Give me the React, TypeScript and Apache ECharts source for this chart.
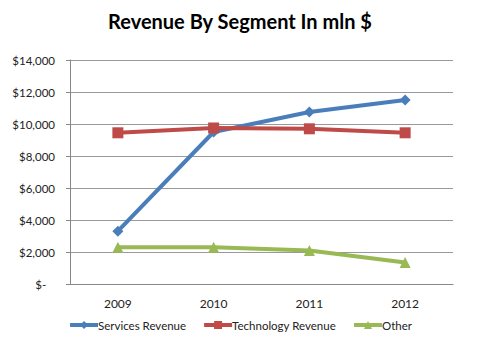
import React, { useEffect, useRef } from "react";
import * as echarts from "echarts";

const years = ["2009", "2010", "2011", "2012"];
const servicesRevenue = [3300, 9500, 10750, 11500];
const technologyRevenue = [9450, 9750, 9700, 9450];
const otherRevenue = [2300, 2300, 2100, 1350];

const FONT = "Lato, 'Open Sans', sans-serif";

export default function App() {
  const ref = useRef<HTMLDivElement>(null);
  useEffect(() => {
    if (!ref.current) return;
    const chart = echarts.init(ref.current, null, { renderer: "svg" });
    const mk = (name: string, data: number[], color: string, symbol: string, size: number) => ({
      name,
      type: "line",
      data,
      symbol,
      symbolSize: size,
      lineStyle: { color, width: 4 },
      itemStyle: { color },
    });
    chart.setOption({
      animation: false,
      backgroundColor: "#ffffff",
      title: {
        text: "Revenue By Segment In mln $",
        left: "center",
        top: 6,
        textStyle: { fontFamily: FONT, fontSize: 20, fontWeight: "bold", color: "#000" },
      },
      grid: { left: 70, right: 27, top: 60, bottom: 56 },
      legend: {
        bottom: 4,
        left: "center",
        itemWidth: 28,
        itemHeight: 10,
        itemGap: 16,
        lineStyle: { width: 4 },
        textStyle: { fontFamily: FONT, fontSize: 11.5, color: "#222", padding: [0, 0, 0, -5] },
        data: ["Services Revenue", "Technology Revenue", "Other"],
      },
      xAxis: {
        type: "category",
        data: years,
        boundaryGap: true,
        axisLine: { lineStyle: { color: "#888" } },
        axisTick: { show: false },
        axisLabel: { fontFamily: FONT, fontSize: 12, color: "#222", margin: 13 },
      },
      yAxis: {
        type: "value",
        min: 0,
        max: 14000,
        interval: 2000,
        axisLine: { show: true, lineStyle: { color: "#888" } },
        axisTick: { show: true, length: 4, lineStyle: { color: "#888" } },
        splitLine: { lineStyle: { color: "#999", width: 1 } },
        axisLabel: {
          fontFamily: FONT,
          fontSize: 11.5,
          color: "#222",
          margin: 15,
          formatter: (v: number) => (v === 0 ? "$-   " : "$" + v.toLocaleString("en-US")),
        },
      },
      series: [
        mk("Services Revenue", servicesRevenue, "#4A7EBB", "diamond", 11),
        mk("Technology Revenue", technologyRevenue, "#BE4B48", "rect", 11),
        mk("Other", otherRevenue, "#98B954", "triangle", 11),
      ],
    });
    return () => chart.dispose();
  }, []);
  return <div ref={ref} style={{ width: 480, height: 340, marginLeft: -8, marginTop: -8 }} />;
}
